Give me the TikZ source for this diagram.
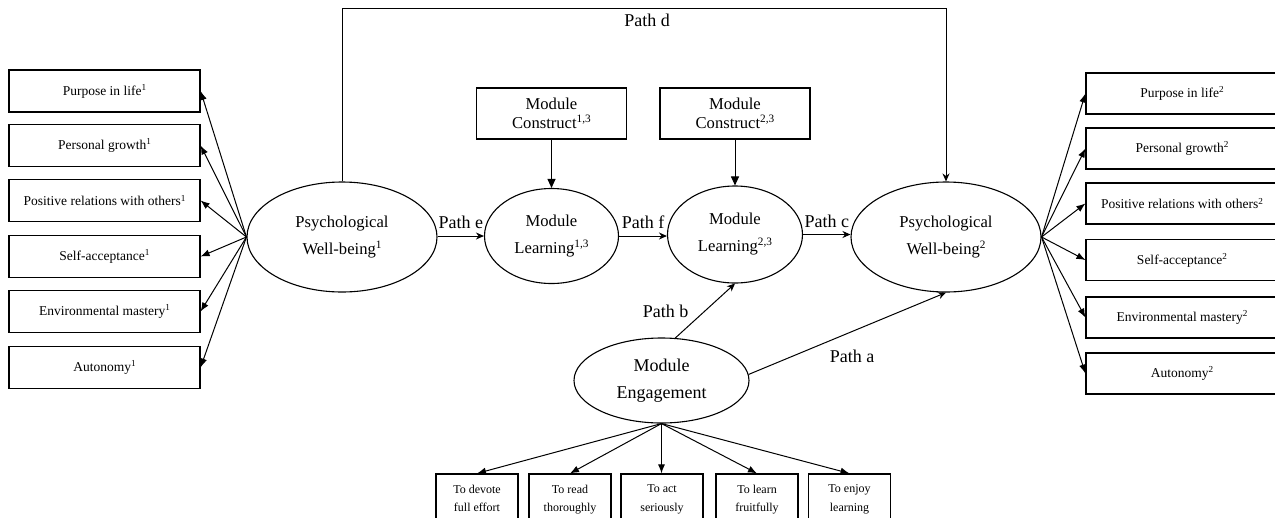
\documentclass[tikz,border=0pt]{standalone}
\usepackage{fontspec}
\usepackage{graphicx}
\setmainfont{Liberation Serif}
\usetikzlibrary{arrows.meta,shapes.geometric}
\newcommand\supx[1]{\raisebox{0.36em}{\scalebox{0.68}{#1}}}
\begin{document}
\begin{tikzpicture}[x=1pt,y=-1pt,
  latent/.style={draw,ellipse,line width=1.1pt,inner sep=0pt,align=center,
    font=\fontsize{16.6}{27}\selectfont},
  conbox/.style={draw,rectangle,line width=1.2pt,inner sep=0pt,align=center,
    minimum width=150pt,minimum height=51pt,font=\fontsize{16.6}{18.5}\selectfont},
  indbox/.style={draw,rectangle,line width=1.2pt,inner sep=0pt,align=center,
    minimum width=191pt,minimum height=42pt,font=\fontsize{13.5}{16}\selectfont},
  engbox/.style={draw,rectangle,line width=1.2pt,inner sep=0pt,align=center,
    minimum width=82pt,minimum height=51pt,font=\fontsize{12}{18.5}\selectfont},
  plabel/.style={font=\fontsize{18}{20}\selectfont,inner sep=0pt},
  patharr/.style={line width=1pt,-{Stealth[length=8pt,width=7pt]}},
  indarr/.style={line width=1pt,-{Latex[length=9pt,width=7pt]}},
  conarr/.style={line width=1pt,-{Triangle[length=9pt,width=8pt]}}
]
\useasboundingbox (0,0) rectangle (1275,517);

% latent variables
\node[latent,minimum width=190pt,minimum height=110pt] (pwb1) at (342,237) {Psychological\\Well-being\supx{1}};
\node[latent,minimum width=134pt,minimum height=95pt] (ml1) at (551.5,236) {Module\\Learning\supx{1,3}};
\node[latent,minimum width=135pt,minimum height=97pt] (ml2) at (735,234.5) {Module\\Learning\supx{2,3}};
\node[latent,minimum width=190pt,minimum height=110pt] (pwb2) at (946,237) {Psychological\\Well-being\supx{2}};
\node[latent,minimum width=175pt,minimum height=85pt,font=\fontsize{18}{27}\selectfont] (me) at (661.5,380.5) {Module\\Engagement};

% constructs
\node[conbox] (mc1) at (551.5,113.5) {Module\\Construct\supx{1,3}};
\node[conbox] (mc2) at (735,113.5) {Module\\Construct\supx{2,3}};

% left indicators
\node[indbox] (l1) at (104.5,91) {Purpose in life\supx{1}};
\node[indbox] (l2) at (104.5,145.5) {Personal growth\supx{1}};
\node[indbox] (l3) at (104.5,200.5) {Positive relations with others\supx{1}};
\node[indbox] (l4) at (104.5,256.5) {Self-acceptance\supx{1}};
\node[indbox] (l5) at (104.5,311.5) {Environmental mastery\supx{1}};
\node[indbox] (l6) at (104.5,367.5) {Autonomy\supx{1}};

% right indicators
\node[indbox,minimum width=192pt,minimum height=41pt] (r1) at (1182,93.5) {Purpose in life\supx{2}};
\node[indbox,minimum width=192pt,minimum height=41pt] (r2) at (1182,148.5) {Personal growth\supx{2}};
\node[indbox,minimum width=192pt,minimum height=41pt] (r3) at (1182,203.5) {Positive relations with others\supx{2}};
\node[indbox,minimum width=192pt,minimum height=41pt] (r4) at (1182,260) {Self-acceptance\supx{2}};
\node[indbox,minimum width=192pt,minimum height=41pt] (r5) at (1182,317.5) {Environmental mastery\supx{2}};
\node[indbox,minimum width=192pt,minimum height=41pt] (r6) at (1182,373.5) {Autonomy\supx{2}};

% engagement indicators
\node[engbox] (b1) at (477,499.5) {To devote\\full effort\vphantom{g}};
\node[engbox] (b2) at (570,499.5) {To read\\thoroughly};
\node[engbox] (b3) at (662,499.5) {To act\\seriously};
\node[engbox] (b4) at (757,499.5) {To learn\\fruitfully};
\node[engbox] (b5) at (849.5,499.5) {To enjoy\\learning};

% indicator arrows
\foreach \i in {1,...,6} {
  \draw[indarr] (pwb1.west) -- (l\i.east);
  \draw[indarr] (pwb2.east) -- (r\i.west);
}
\foreach \i in {1,2,4,5} {
  \draw[indarr] (me.south) -- (b\i.north);
}
\draw[indarr] (me.south) -- (me.south |- b3.north);

% construct arrows
\draw[conarr] (mc1.south) -- (ml1.north);
\draw[conarr] (mc2.south) -- (ml2.north);

% structural paths
\draw[patharr] (pwb1.east |- ml1.west) -- node[plabel,above=7pt] (pe) {Path e} (ml1.west);
\draw[patharr] (ml1.east) -- node[plabel,above=7pt] (pf) {Path f} (ml1.east -| ml2.west);
\draw[patharr] (ml2.east) -- node[plabel,above=6pt] (pc) {Path c} (ml2.east -| pwb2.west);
\draw[patharr] (pwb1.north) -- ++(0,-173) -| (pwb2.north);
\node[plabel] (pd) at (647,20) {Path d};
\draw[patharr] (me.72) -- (ml2.south);
\node[plabel] (pb) at (665.5,311.5) {Path b};
\draw[patharr] (me.4) -- (pwb2.south);
\node[plabel] (pa) at (852,356) {Path a};
\end{tikzpicture}
\end{document}
